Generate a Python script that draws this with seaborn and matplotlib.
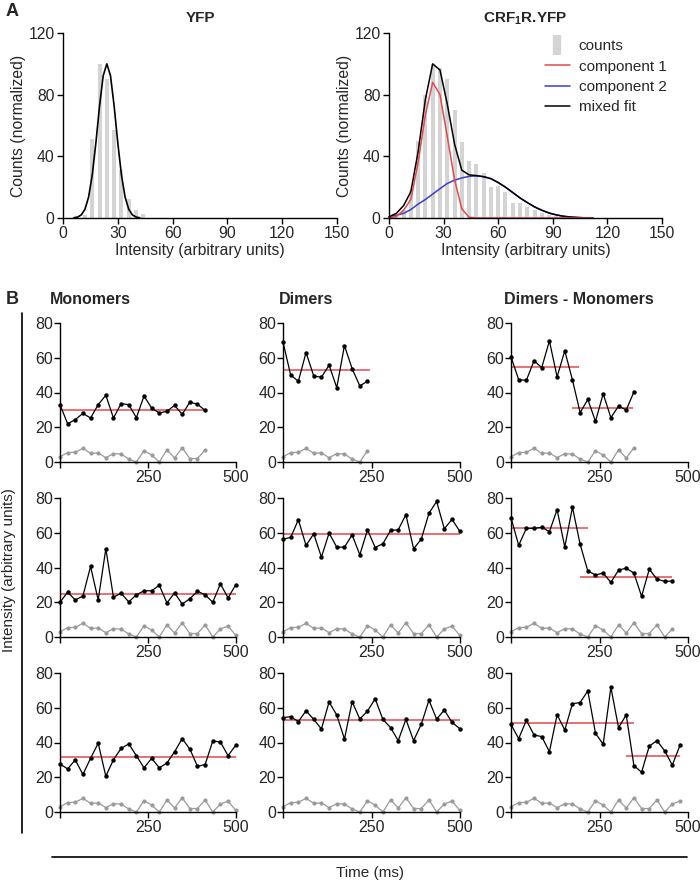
import numpy as np
import pandas as pd
import seaborn as sns
import matplotlib.pyplot as plt
from matplotlib.lines import Line2D

sns.set_style('ticks')
plt.rcParams['font.family'] = ['Liberation Sans', 'DejaVu Sans']
plt.rcParams['mathtext.fontset'] = 'custom'
plt.rcParams['mathtext.rm'] = 'Liberation Sans'
plt.rcParams['mathtext.bf'] = 'Liberation Sans:bold'

# ---------------- data: panel A (histograms) ----------------
yfp_bins = [12, 16, 20, 24, 28, 32, 36, 40, 44]
yfp_counts = [2, 51, 100, 90, 57, 31, 12.5, 5.4, 2.6]
yfp_fit_x = [6, 8, 10, 12, 14, 16, 18, 20, 22, 24, 26, 28, 30, 32, 34, 36, 38, 40, 42]
yfp_fit_y = [0.2, 0.6, 2, 5.6, 13.5, 27.8, 48.7, 72.6, 92.3, 100, 92.3, 72.6, 48.7,
             27.8, 13.5, 5.6, 2, 0.6, 0.2]

crf_bins = [4, 8, 12, 16, 20, 24, 28, 32, 36, 40, 44, 48, 52, 56, 60, 64, 68, 72,
            76, 80, 84, 88, 92]
crf_counts = [1, 5, 18, 50, 80, 100, 97, 90, 70, 49, 37, 35, 29, 20, 21, 17, 10, 10,
              7, 5, 3, 2, 1]
crf_fit_x = [0, 4, 8, 12, 16, 20, 24, 28, 32, 36, 40, 44, 48, 52, 56, 60, 64, 68, 72,
             76, 80, 84, 88, 92, 96, 100, 104, 108, 112]
comp1 = [0, 1, 5, 12, 36, 67, 88, 80, 53, 25, 6, 0.5, 0, 0, 0, 0, 0, 0, 0, 0, 0, 0,
         0, 0, 0, 0, 0, 0, 0]
comp2 = [0.8, 1.8, 3, 5.5, 9, 12, 15.5, 19, 22.4, 24.5, 26, 27, 27.3, 26.8, 25.5, 23,
         20, 16.5, 13, 10, 7.2, 5, 3.2, 2, 1.1, 0.6, 0.3, 0.1, 0]
mixed = [0.8, 3, 8, 17, 43, 77, 100, 96, 74, 48, 31, 28, 27.5, 26.8, 25.5, 23, 20,
         16.5, 13, 10, 7.2, 5, 3.2, 2, 1.1, 0.6, 0.3, 0.1, 0]

# ---------------- data: panel B (intensity traces) ----------------
frame_ms = 21.7
background = [3, 5.4, 5.6, 7.9, 5, 5.2, 2.5, 4.8, 4.6, 1.7, 0, 6.5, 4, 0, 7, 2.3,
              8.2, 2, 2, 7, 0, 4.6, 6.3, 1]

mono1 = [33, 22, 24.4, 28, 25.3, 33, 38.4, 25.3, 33.6, 33, 25.5, 38, 31, 28.2, 29.2,
         32.6, 27.4, 34.5, 33.2, 29.7]
dim1 = [69, 50, 46.5, 63, 49.5, 48.8, 55.7, 42.8, 67, 53.7, 43.8, 46.5]
dm1 = [60.5, 47.4, 47, 58.3, 54.3, 69.7, 49, 64, 47.2, 28.4, 36, 23.4, 39.3, 25.5,
       32.2, 30, 40.3]
mono2 = [20, 25.8, 21.3, 23.6, 40.6, 21.3, 50.8, 22.9, 25.2, 20.2, 24.3, 26.6, 26.6,
         29.8, 19.6, 25.4, 19, 22, 26.3, 24.3, 20, 30.6, 22.5, 30]
dim2 = [56.3, 57.3, 67.5, 52.7, 59.4, 46, 59.8, 51.7, 51.7, 58.8, 47.3, 61.7, 51.5,
        53.7, 61.3, 61.7, 70.4, 50.8, 56.3, 71.2, 78, 62.3, 67.7, 61]
dm2 = [68.6, 52.8, 62.5, 62.5, 63.2, 60.6, 73.3, 51.8, 74.7, 53.3, 38, 35.7, 36.8,
       31.4, 38.5, 39.6, 36.8, 23.4, 39, 33.3, 32, 32.2]
mono3 = [27.6, 24.8, 30, 21.6, 30.9, 39.6, 20.6, 30.1, 36.6, 39.2, 32.4, 25.4, 30.9,
         25.4, 28.2, 34.7, 42.2, 36.2, 26.3, 27.3, 40.9, 40.3, 32.4, 38.4]
dim3 = [54.3, 54.9, 52, 58.3, 53.3, 47.8, 63.3, 55.8, 42, 63.5, 53.5, 58.1, 65.2, 53.3,
        48.6, 41.1, 53.3, 41.1, 50.5, 64.3, 53.5, 58.7, 51.6, 48]
dm3 = [50.4, 42.2, 52.8, 44.3, 43.4, 34.7, 56, 47.2, 62.3, 63, 69.7, 45.3, 39, 71.8,
       48.5, 55.9, 26.7, 22.9, 37.9, 41.1, 35.2, 27, 38.4]

# step fits: (start ms, end ms, level)
fit_mono1 = [(0, 413, 30)]
fit_dim1 = [(0, 245, 52.8)]
fit_dm1 = [(0, 193, 54.5), (172, 345, 31.3)]
fit_mono2 = [(0, 500, 25)]
fit_dim2 = [(0, 500, 59)]
fit_dm2 = [(0, 217, 62.5), (195, 455, 34.7)]
fit_mono3 = [(0, 500, 31.8)]
fit_dim3 = [(0, 500, 52.8)]
fit_dm3 = [(0, 347, 51.3), (325, 478, 32.5)]

traces = [[mono1, dim1, dm1], [mono2, dim2, dm2], [mono3, dim3, dm3]]
fits = [[fit_mono1, fit_dim1, fit_dm1], [fit_mono2, fit_dim2, fit_dm2],
        [fit_mono3, fit_dim3, fit_dm3]]
col_titles = ['Monomers', 'Dimers', 'Dimers - Monomers']

BAR = '#d4d4d4'
RED = '#e5484d'
BLUE = '#3d3dc8'
GRAY = '#9a9a9a'

W, H = 700, 882
fig = plt.figure(figsize=(W / 100, H / 100), dpi=100)


def rect(x0, x1, ytop, ybot):
    return [x0 / W, 1 - ybot / H, (x1 - x0) / W, (ybot - ytop) / H]


def style_axes(ax, fs):
    sns.despine(ax=ax)
    for s in ['left', 'bottom']:
        ax.spines[s].set_linewidth(1.0)
        ax.spines[s].set_color('k')
    ax.tick_params(direction='out', length=4, width=1, labelsize=fs, pad=2, color='k')


# ---------------- panel A ----------------
axL = fig.add_axes(rect(63, 337, 33, 218))
axR = fig.add_axes(rect(389, 662, 33, 218))

sns.histplot(x=yfp_bins, weights=yfp_counts, binwidth=4, binrange=(10, 46),
             shrink=0.55, color=BAR, edgecolor='none', alpha=1, ax=axL)
sns.lineplot(x=yfp_fit_x, y=yfp_fit_y, color='k', lw=1.2, ax=axL)

sns.histplot(x=crf_bins, weights=crf_counts, binwidth=4, binrange=(2, 94),
             shrink=0.55, color=BAR, edgecolor='none', alpha=1, ax=axR)
sns.lineplot(x=crf_fit_x, y=comp2, color=BLUE, lw=1.1, ax=axR)
sns.lineplot(x=crf_fit_x, y=mixed, color='k', lw=1.1, ax=axR)
sns.lineplot(x=crf_fit_x, y=comp1, color=RED, lw=1.1, ax=axR)

for ax, title in [(axL, 'YFP'), (axR, r'CRF$_\mathbf{1}$R.YFP')]:
    ax.set_xlim(0, 150)
    ax.set_ylim(0, 120)
    ax.set_xticks([0, 30, 60, 90, 120, 150])
    ax.set_yticks([0, 40, 80, 120])
    ax.set_xlabel('Intensity (arbitrary units)', fontsize=11.3, labelpad=1)
    ax.set_ylabel('Counts (normalized)', fontsize=11.3, labelpad=2)
    ax.set_title(title, fontsize=11, fontweight='bold', pad=8)
    style_axes(ax, 11.3)
    for ln in ax.lines:
        ln.set_clip_on(False)

handles = [Line2D([0], [0], linestyle='none', marker='|', markersize=15, mew=6, color=BAR),
           Line2D([0], [0], color=RED, lw=1.1),
           Line2D([0], [0], color=BLUE, lw=1.1),
           Line2D([0], [0], color='k', lw=1.1)]
axR.legend(handles, ['counts', 'component 1', 'component 2', 'mixed fit'],
           loc='upper left', bbox_to_anchor=(0.55, 1.0), frameon=False,
           fontsize=11, handlelength=1.6, handletextpad=0.6, labelspacing=0.42,
           borderaxespad=0)

fig.text(6 / W, 1 - 12 / H, 'A', fontsize=13, fontweight='bold', va='center')
fig.text(6 / W, 1 - 300 / H, 'B', fontsize=13, fontweight='bold', va='center')

# ---------------- panel B ----------------
col_x0 = [60, 283, 511]
col_x1 = [236, 460, 688]
row_top = [323, 498, 673]
row_bot = [462, 637, 812]
title_x = [50, 279, 504]

for r in range(3):
    for c in range(3):
        ax = fig.add_axes(rect(col_x0[c], col_x1[c], row_top[r], row_bot[r]))
        vals = traces[r][c]
        df = pd.DataFrame({'t': np.arange(len(vals)) * frame_ms,
                           'signal': vals,
                           'bg': background[:len(vals)]})
        sns.lineplot(data=df, x='t', y='bg', color=GRAY, lw=0.9, marker='o',
                     markersize=3, markeredgewidth=0, ax=ax)
        for start, end, level in fits[r][c]:
            ax.hlines(level, start, end, color=RED, lw=1.1, zorder=2)
        sns.lineplot(data=df, x='t', y='signal', color='k', lw=0.9, marker='o',
                     markersize=3.2, markeredgewidth=0, ax=ax, zorder=3)
        ax.set_xlim(0, 500)
        ax.set_ylim(0, 80)
        ax.set_xticks([0, 250, 500])
        ax.set_xticklabels(['', '250', '500'])
        ax.set_yticks([0, 20, 40, 60, 80])
        ax.set_xlabel('')
        ax.set_ylabel('')
        style_axes(ax, 11.5)
        ax.tick_params(axis='y', pad=1)
        for ln in ax.lines:
            ln.set_clip_on(False)
        if r == 0:
            fig.text(title_x[c] / W, 1 - 300 / H, col_titles[c], fontsize=11.5,
                     fontweight='bold', va='center', ha='left')

fig.add_artist(Line2D([22 / W, 22 / W], [1 - 313 / H, 1 - 833 / H], color='k', lw=1.2))
fig.add_artist(Line2D([52 / W, 687 / W], [1 - 857 / H, 1 - 857 / H], color='k', lw=1.2))
fig.text(9 / W, 1 - 570 / H, 'Intensity (arbitrary units)', rotation=90,
         fontsize=11, ha='center', va='center')
fig.text(370 / W, 1 - 873 / H, 'Time (ms)', fontsize=11, ha='center', va='center')

fig.savefig('out.png', dpi=100)
